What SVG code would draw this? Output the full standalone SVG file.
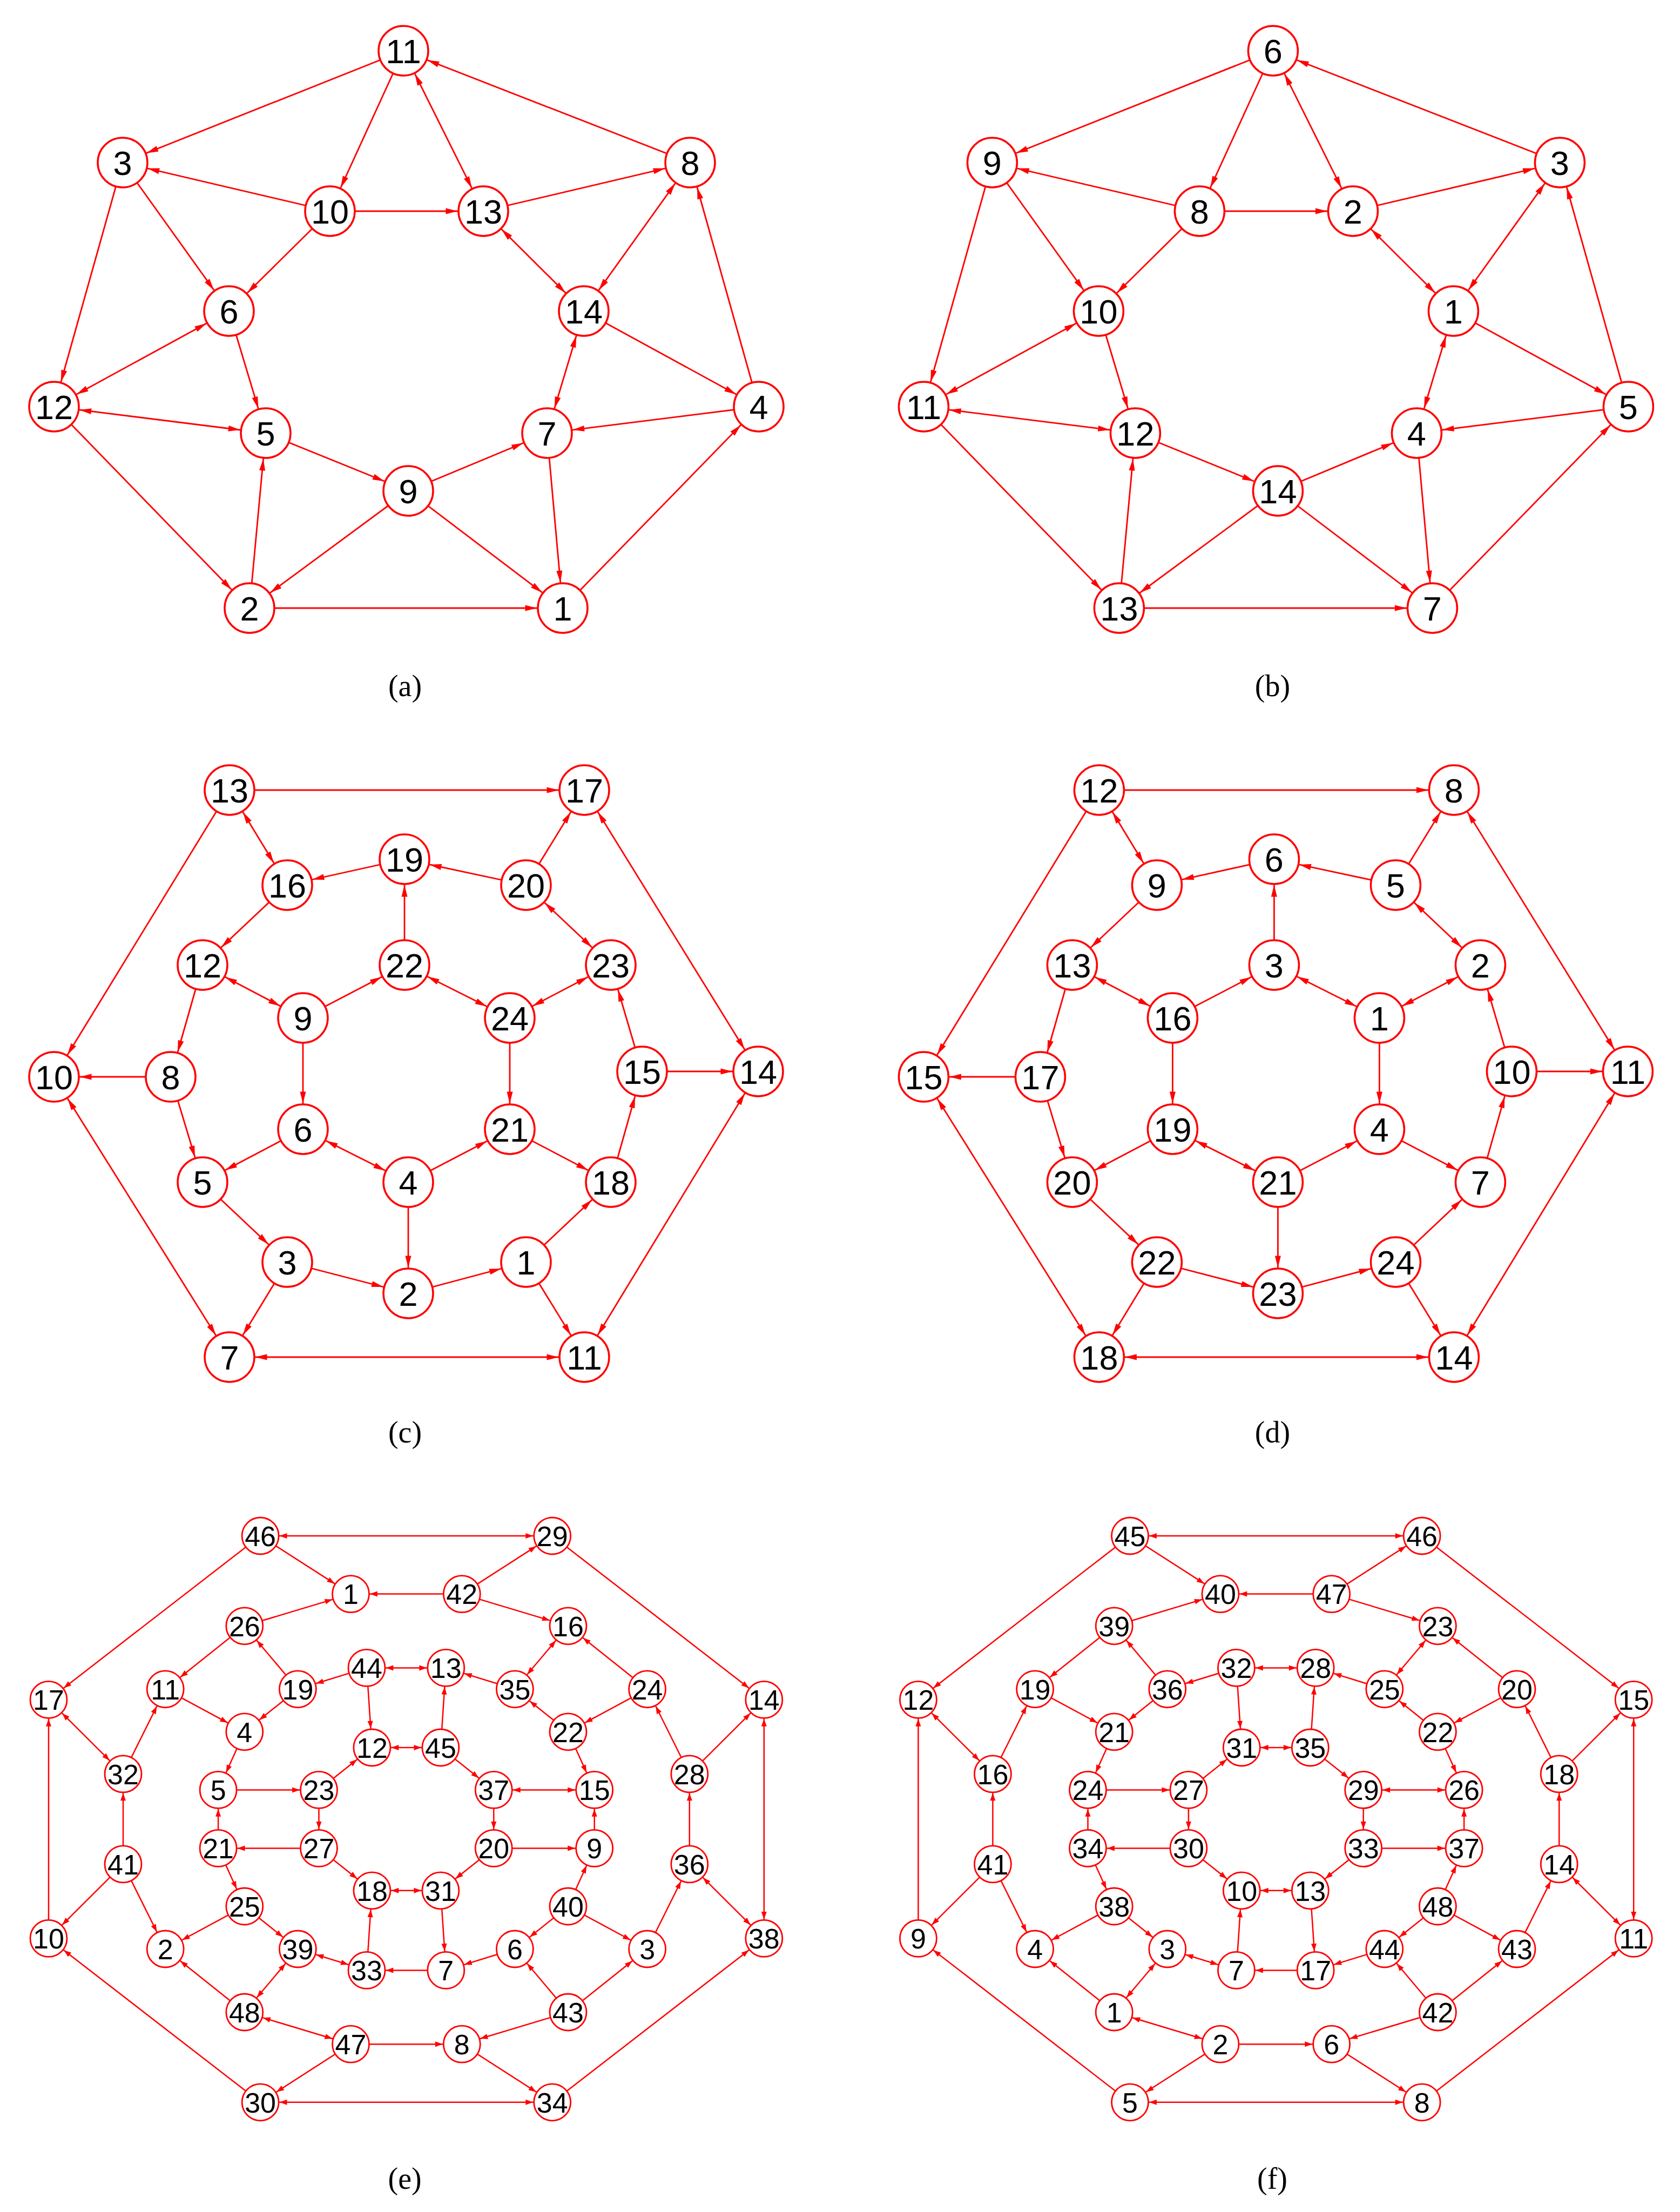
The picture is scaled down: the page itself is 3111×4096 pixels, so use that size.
<svg xmlns="http://www.w3.org/2000/svg" width="3111" height="4096" viewBox="0 0 3111 4096">
<style>
.ed line{stroke:#ff0000;fill:none}
.big line{stroke-width:2.8;marker-end:url(#mL)}
.big line.b{marker-start:url(#mL)}
.sml line{stroke-width:2.5;marker-end:url(#mS)}
.sml line.b{marker-start:url(#mS)}
.nd circle{fill:#ffffff;stroke:#ff0000}
.nd text{font-family:"Liberation Sans",Arial,sans-serif;fill:#000000;text-anchor:middle}
.L circle{stroke-width:3.5}
.L text{font-size:63px}
.S circle{stroke-width:2.8}
.S text{font-size:52px}
.cap{font-family:"Liberation Serif","Times New Roman",serif;font-size:56px;text-anchor:middle;fill:#000000}
</style>
<defs>
<marker id="mL" markerUnits="userSpaceOnUse" markerWidth="22" markerHeight="11" refX="69.5" refY="5.5" orient="auto-start-reverse" overflow="visible"><path d="M0,0 L22,5.5 L0,11 z" fill="#ff0000"/></marker>
<marker id="mS" markerUnits="userSpaceOnUse" markerWidth="14" markerHeight="10" refX="49.4" refY="5" orient="auto-start-reverse" overflow="visible"><path d="M0,0 L14,5 L0,10 z" fill="#ff0000"/></marker>
</defs>
<rect x="0" y="0" width="3111" height="4096" fill="#ffffff"/>

<!-- Panel (a) -->
<g id="panel-a">
<g id="a-edges" class="ed big">
<line x1="1278" y1="301" x2="747" y2="94"/>
<line x1="747" y1="94" x2="227" y2="301"/>
<line x1="747" y1="94" x2="611" y2="391"/>
<line class="b" x1="747" y1="94" x2="895" y2="391"/>
<line x1="611" y1="391" x2="227" y2="301"/>
<line x1="611" y1="391" x2="895" y2="391"/>
<line x1="895" y1="391" x2="1278" y2="301"/>
<line x1="227" y1="301" x2="424" y2="576"/>
<line x1="227" y1="301" x2="100" y2="753"/>
<line x1="611" y1="391" x2="424" y2="576"/>
<line class="b" x1="895" y1="391" x2="1081" y2="576"/>
<line class="b" x1="1278" y1="301" x2="1081" y2="576"/>
<line x1="1081" y1="576" x2="1405" y2="753"/>
<line x1="1405" y1="753" x2="1278" y2="301"/>
<line class="b" x1="424" y1="576" x2="100" y2="753"/>
<line x1="424" y1="576" x2="492" y2="802"/>
<line class="b" x1="100" y1="753" x2="492" y2="802"/>
<line x1="100" y1="753" x2="462" y2="1126"/>
<line x1="492" y1="802" x2="756" y2="909"/>
<line x1="756" y1="909" x2="1013" y2="802"/>
<line class="b" x1="1081" y1="576" x2="1013" y2="802"/>
<line x1="1405" y1="753" x2="1013" y2="802"/>
<line x1="1013" y1="802" x2="1042" y2="1126"/>
<line x1="756" y1="909" x2="462" y2="1126"/>
<line x1="756" y1="909" x2="1042" y2="1126"/>
<line x1="462" y1="1126" x2="492" y2="802"/>
<line x1="462" y1="1126" x2="1042" y2="1126"/>
<line x1="1042" y1="1126" x2="1405" y2="753"/>
</g>
<g id="a-nodes" class="nd L">
<g id="a-11"><circle cx="747" cy="94" r="46"/><text x="747" y="116.5">11</text></g>
<g id="a-3"><circle cx="227" cy="301" r="46"/><text x="227" y="323.5">3</text></g>
<g id="a-8"><circle cx="1278" cy="301" r="46"/><text x="1278" y="323.5">8</text></g>
<g id="a-10"><circle cx="611" cy="391" r="46"/><text x="611" y="413.5">10</text></g>
<g id="a-13"><circle cx="895" cy="391" r="46"/><text x="895" y="413.5">13</text></g>
<g id="a-6"><circle cx="424" cy="576" r="46"/><text x="424" y="598.5">6</text></g>
<g id="a-14"><circle cx="1081" cy="576" r="46"/><text x="1081" y="598.5">14</text></g>
<g id="a-12"><circle cx="100" cy="753" r="46"/><text x="100" y="775.5">12</text></g>
<g id="a-5"><circle cx="492" cy="802" r="46"/><text x="492" y="824.5">5</text></g>
<g id="a-9"><circle cx="756" cy="909" r="46"/><text x="756" y="931.5">9</text></g>
<g id="a-7"><circle cx="1013" cy="802" r="46"/><text x="1013" y="824.5">7</text></g>
<g id="a-4"><circle cx="1405" cy="753" r="46"/><text x="1405" y="775.5">4</text></g>
<g id="a-2"><circle cx="462" cy="1126" r="46"/><text x="462" y="1148.5">2</text></g>
<g id="a-1"><circle cx="1042" cy="1126" r="46"/><text x="1042" y="1148.5">1</text></g>
</g>
<text class="cap" x="750" y="1289">(a)</text>
</g>

<!-- Panel (b) -->
<g id="panel-b" transform="translate(1610.4,0)">
<g id="b-edges" class="ed big">
<line x1="1278" y1="301" x2="747" y2="94"/>
<line x1="747" y1="94" x2="227" y2="301"/>
<line x1="747" y1="94" x2="611" y2="391"/>
<line class="b" x1="747" y1="94" x2="895" y2="391"/>
<line x1="611" y1="391" x2="227" y2="301"/>
<line x1="611" y1="391" x2="895" y2="391"/>
<line x1="895" y1="391" x2="1278" y2="301"/>
<line x1="227" y1="301" x2="424" y2="576"/>
<line x1="227" y1="301" x2="100" y2="753"/>
<line x1="611" y1="391" x2="424" y2="576"/>
<line class="b" x1="895" y1="391" x2="1081" y2="576"/>
<line class="b" x1="1278" y1="301" x2="1081" y2="576"/>
<line x1="1081" y1="576" x2="1405" y2="753"/>
<line x1="1405" y1="753" x2="1278" y2="301"/>
<line class="b" x1="424" y1="576" x2="100" y2="753"/>
<line x1="424" y1="576" x2="492" y2="802"/>
<line class="b" x1="100" y1="753" x2="492" y2="802"/>
<line x1="100" y1="753" x2="462" y2="1126"/>
<line x1="492" y1="802" x2="756" y2="909"/>
<line x1="756" y1="909" x2="1013" y2="802"/>
<line class="b" x1="1081" y1="576" x2="1013" y2="802"/>
<line x1="1405" y1="753" x2="1013" y2="802"/>
<line x1="1013" y1="802" x2="1042" y2="1126"/>
<line x1="756" y1="909" x2="462" y2="1126"/>
<line x1="756" y1="909" x2="1042" y2="1126"/>
<line x1="462" y1="1126" x2="492" y2="802"/>
<line x1="462" y1="1126" x2="1042" y2="1126"/>
<line x1="1042" y1="1126" x2="1405" y2="753"/>
</g>
<g id="b-nodes" class="nd L">
<g id="b-6"><circle cx="747" cy="94" r="46"/><text x="747" y="116.5">6</text></g>
<g id="b-9"><circle cx="227" cy="301" r="46"/><text x="227" y="323.5">9</text></g>
<g id="b-3"><circle cx="1278" cy="301" r="46"/><text x="1278" y="323.5">3</text></g>
<g id="b-8"><circle cx="611" cy="391" r="46"/><text x="611" y="413.5">8</text></g>
<g id="b-2"><circle cx="895" cy="391" r="46"/><text x="895" y="413.5">2</text></g>
<g id="b-10"><circle cx="424" cy="576" r="46"/><text x="424" y="598.5">10</text></g>
<g id="b-1"><circle cx="1081" cy="576" r="46"/><text x="1081" y="598.5">1</text></g>
<g id="b-11"><circle cx="100" cy="753" r="46"/><text x="100" y="775.5">11</text></g>
<g id="b-12"><circle cx="492" cy="802" r="46"/><text x="492" y="824.5">12</text></g>
<g id="b-14"><circle cx="756" cy="909" r="46"/><text x="756" y="931.5">14</text></g>
<g id="b-4"><circle cx="1013" cy="802" r="46"/><text x="1013" y="824.5">4</text></g>
<g id="b-5"><circle cx="1405" cy="753" r="46"/><text x="1405" y="775.5">5</text></g>
<g id="b-13"><circle cx="462" cy="1126" r="46"/><text x="462" y="1148.5">13</text></g>
<g id="b-7"><circle cx="1042" cy="1126" r="46"/><text x="1042" y="1148.5">7</text></g>
</g>
<text class="cap" x="746" y="1289">(b)</text>
</g>

<!-- Panel (c) -->
<g id="panel-c">
<g id="c-edges" class="ed big">
<line x1="425" y1="1463" x2="1082" y2="1463"/>
<line class="b" x1="425" y1="1463" x2="532" y2="1639"/>
<line x1="425" y1="1463" x2="100" y2="1994"/>
<line class="b" x1="1082" y1="1463" x2="1404" y2="1984"/>
<line x1="974" y1="1639" x2="1082" y2="1463"/>
<line x1="974" y1="1639" x2="749" y2="1591"/>
<line x1="749" y1="1591" x2="532" y2="1639"/>
<line x1="532" y1="1639" x2="375" y2="1787"/>
<line x1="749" y1="1787" x2="749" y2="1591"/>
<line class="b" x1="974" y1="1639" x2="1131" y2="1787"/>
<line class="b" x1="375" y1="1787" x2="561" y2="1885"/>
<line x1="375" y1="1787" x2="316" y2="1994"/>
<line x1="561" y1="1885" x2="749" y2="1787"/>
<line class="b" x1="749" y1="1787" x2="944" y2="1885"/>
<line class="b" x1="1131" y1="1787" x2="944" y2="1885"/>
<line x1="1189" y1="1984" x2="1131" y2="1787"/>
<line x1="1189" y1="1984" x2="1404" y2="1984"/>
<line x1="316" y1="1994" x2="100" y2="1994"/>
<line x1="561" y1="1885" x2="561" y2="2091"/>
<line x1="944" y1="1885" x2="944" y2="2091"/>
<line class="b" x1="100" y1="1994" x2="425" y2="2513"/>
<line x1="316" y1="1994" x2="375" y2="2189"/>
<line x1="561" y1="2091" x2="375" y2="2189"/>
<line class="b" x1="561" y1="2091" x2="756" y2="2189"/>
<line x1="756" y1="2189" x2="944" y2="2091"/>
<line x1="944" y1="2091" x2="1131" y2="2189"/>
<line x1="1131" y1="2189" x2="1189" y2="1984"/>
<line x1="375" y1="2189" x2="532" y2="2337"/>
<line x1="756" y1="2189" x2="756" y2="2395"/>
<line x1="532" y1="2337" x2="756" y2="2395"/>
<line x1="756" y1="2395" x2="974" y2="2337"/>
<line x1="974" y1="2337" x2="1131" y2="2189"/>
<line x1="532" y1="2337" x2="425" y2="2513"/>
<line x1="974" y1="2337" x2="1082" y2="2513"/>
<line class="b" x1="1404" y1="1984" x2="1082" y2="2513"/>
<line class="b" x1="425" y1="2513" x2="1082" y2="2513"/>
</g>
<g id="c-nodes" class="nd L">
<g id="c-13"><circle cx="425" cy="1463" r="46"/><text x="425" y="1485.5">13</text></g>
<g id="c-17"><circle cx="1082" cy="1463" r="46"/><text x="1082" y="1485.5">17</text></g>
<g id="c-19"><circle cx="749" cy="1591" r="46"/><text x="749" y="1613.5">19</text></g>
<g id="c-16"><circle cx="532" cy="1639" r="46"/><text x="532" y="1661.5">16</text></g>
<g id="c-20"><circle cx="974" cy="1639" r="46"/><text x="974" y="1661.5">20</text></g>
<g id="c-12"><circle cx="375" cy="1787" r="46"/><text x="375" y="1809.5">12</text></g>
<g id="c-22"><circle cx="749" cy="1787" r="46"/><text x="749" y="1809.5">22</text></g>
<g id="c-23"><circle cx="1131" cy="1787" r="46"/><text x="1131" y="1809.5">23</text></g>
<g id="c-9"><circle cx="561" cy="1885" r="46"/><text x="561" y="1907.5">9</text></g>
<g id="c-24"><circle cx="944" cy="1885" r="46"/><text x="944" y="1907.5">24</text></g>
<g id="c-10"><circle cx="100" cy="1994" r="46"/><text x="100" y="2016.5">10</text></g>
<g id="c-8"><circle cx="316" cy="1994" r="46"/><text x="316" y="2016.5">8</text></g>
<g id="c-15"><circle cx="1189" cy="1984" r="46"/><text x="1189" y="2006.5">15</text></g>
<g id="c-14"><circle cx="1404" cy="1984" r="46"/><text x="1404" y="2006.5">14</text></g>
<g id="c-6"><circle cx="561" cy="2091" r="46"/><text x="561" y="2113.5">6</text></g>
<g id="c-21"><circle cx="944" cy="2091" r="46"/><text x="944" y="2113.5">21</text></g>
<g id="c-5"><circle cx="375" cy="2189" r="46"/><text x="375" y="2211.5">5</text></g>
<g id="c-4"><circle cx="756" cy="2189" r="46"/><text x="756" y="2211.5">4</text></g>
<g id="c-18"><circle cx="1131" cy="2189" r="46"/><text x="1131" y="2211.5">18</text></g>
<g id="c-3"><circle cx="532" cy="2337" r="46"/><text x="532" y="2359.5">3</text></g>
<g id="c-1"><circle cx="974" cy="2337" r="46"/><text x="974" y="2359.5">1</text></g>
<g id="c-2"><circle cx="756" cy="2395" r="46"/><text x="756" y="2417.5">2</text></g>
<g id="c-7"><circle cx="425" cy="2513" r="46"/><text x="425" y="2535.5">7</text></g>
<g id="c-11"><circle cx="1082" cy="2513" r="46"/><text x="1082" y="2535.5">11</text></g>
</g>
<text class="cap" x="750" y="2671">(c)</text>
</g>

<!-- Panel (d) -->
<g id="panel-d" transform="translate(1610.4,0)">
<g id="d-edges" class="ed big">
<line x1="425" y1="1463" x2="1082" y2="1463"/>
<line class="b" x1="425" y1="1463" x2="532" y2="1639"/>
<line x1="425" y1="1463" x2="100" y2="1994"/>
<line class="b" x1="1082" y1="1463" x2="1404" y2="1984"/>
<line x1="974" y1="1639" x2="1082" y2="1463"/>
<line x1="974" y1="1639" x2="749" y2="1591"/>
<line x1="749" y1="1591" x2="532" y2="1639"/>
<line x1="532" y1="1639" x2="375" y2="1787"/>
<line x1="749" y1="1787" x2="749" y2="1591"/>
<line class="b" x1="974" y1="1639" x2="1131" y2="1787"/>
<line class="b" x1="375" y1="1787" x2="561" y2="1885"/>
<line x1="375" y1="1787" x2="316" y2="1994"/>
<line x1="561" y1="1885" x2="749" y2="1787"/>
<line class="b" x1="749" y1="1787" x2="944" y2="1885"/>
<line class="b" x1="1131" y1="1787" x2="944" y2="1885"/>
<line x1="1189" y1="1984" x2="1131" y2="1787"/>
<line x1="1189" y1="1984" x2="1404" y2="1984"/>
<line x1="316" y1="1994" x2="100" y2="1994"/>
<line x1="561" y1="1885" x2="561" y2="2091"/>
<line x1="944" y1="1885" x2="944" y2="2091"/>
<line class="b" x1="100" y1="1994" x2="425" y2="2513"/>
<line x1="316" y1="1994" x2="375" y2="2189"/>
<line x1="561" y1="2091" x2="375" y2="2189"/>
<line class="b" x1="561" y1="2091" x2="756" y2="2189"/>
<line x1="756" y1="2189" x2="944" y2="2091"/>
<line x1="944" y1="2091" x2="1131" y2="2189"/>
<line x1="1131" y1="2189" x2="1189" y2="1984"/>
<line x1="375" y1="2189" x2="532" y2="2337"/>
<line x1="756" y1="2189" x2="756" y2="2395"/>
<line x1="532" y1="2337" x2="756" y2="2395"/>
<line x1="756" y1="2395" x2="974" y2="2337"/>
<line x1="974" y1="2337" x2="1131" y2="2189"/>
<line x1="532" y1="2337" x2="425" y2="2513"/>
<line x1="974" y1="2337" x2="1082" y2="2513"/>
<line class="b" x1="1404" y1="1984" x2="1082" y2="2513"/>
<line class="b" x1="425" y1="2513" x2="1082" y2="2513"/>
</g>
<g id="d-nodes" class="nd L">
<g id="d-12"><circle cx="425" cy="1463" r="46"/><text x="425" y="1485.5">12</text></g>
<g id="d-8"><circle cx="1082" cy="1463" r="46"/><text x="1082" y="1485.5">8</text></g>
<g id="d-6"><circle cx="749" cy="1591" r="46"/><text x="749" y="1613.5">6</text></g>
<g id="d-9"><circle cx="532" cy="1639" r="46"/><text x="532" y="1661.5">9</text></g>
<g id="d-5"><circle cx="974" cy="1639" r="46"/><text x="974" y="1661.5">5</text></g>
<g id="d-13"><circle cx="375" cy="1787" r="46"/><text x="375" y="1809.5">13</text></g>
<g id="d-3"><circle cx="749" cy="1787" r="46"/><text x="749" y="1809.5">3</text></g>
<g id="d-2"><circle cx="1131" cy="1787" r="46"/><text x="1131" y="1809.5">2</text></g>
<g id="d-16"><circle cx="561" cy="1885" r="46"/><text x="561" y="1907.5">16</text></g>
<g id="d-1"><circle cx="944" cy="1885" r="46"/><text x="944" y="1907.5">1</text></g>
<g id="d-15"><circle cx="100" cy="1994" r="46"/><text x="100" y="2016.5">15</text></g>
<g id="d-17"><circle cx="316" cy="1994" r="46"/><text x="316" y="2016.5">17</text></g>
<g id="d-10"><circle cx="1189" cy="1984" r="46"/><text x="1189" y="2006.5">10</text></g>
<g id="d-11"><circle cx="1404" cy="1984" r="46"/><text x="1404" y="2006.5">11</text></g>
<g id="d-19"><circle cx="561" cy="2091" r="46"/><text x="561" y="2113.5">19</text></g>
<g id="d-4"><circle cx="944" cy="2091" r="46"/><text x="944" y="2113.5">4</text></g>
<g id="d-20"><circle cx="375" cy="2189" r="46"/><text x="375" y="2211.5">20</text></g>
<g id="d-21"><circle cx="756" cy="2189" r="46"/><text x="756" y="2211.5">21</text></g>
<g id="d-7"><circle cx="1131" cy="2189" r="46"/><text x="1131" y="2211.5">7</text></g>
<g id="d-22"><circle cx="532" cy="2337" r="46"/><text x="532" y="2359.5">22</text></g>
<g id="d-24"><circle cx="974" cy="2337" r="46"/><text x="974" y="2359.5">24</text></g>
<g id="d-23"><circle cx="756" cy="2395" r="46"/><text x="756" y="2417.5">23</text></g>
<g id="d-18"><circle cx="425" cy="2513" r="46"/><text x="425" y="2535.5">18</text></g>
<g id="d-14"><circle cx="1082" cy="2513" r="46"/><text x="1082" y="2535.5">14</text></g>
</g>
<text class="cap" x="746" y="2671">(d)</text>
</g>

<!-- Panel (e) -->
<g id="panel-e" transform="translate(752.4,3368.4)">
<g id="e-edges" class="ed sml">
<line class="b" x1="-270.3" y1="-524.4" x2="270.3" y2="-524.4"/>
<line x1="-270.3" y1="-524.4" x2="-102.9" y2="-416.8"/>
<line x1="-270.3" y1="-524.4" x2="-662.4" y2="-221"/>
<line x1="102.9" y1="-416.8" x2="-102.9" y2="-416.8"/>
<line x1="-299.6" y1="-357.6" x2="-102.9" y2="-416.8"/>
<line x1="-299.6" y1="-357.6" x2="-446.2" y2="-240.6"/>
<line x1="-201" y1="-240.6" x2="-299.6" y2="-357.6"/>
<line class="b" x1="-73.4" y1="-280" x2="73.4" y2="-280"/>
<line x1="-73.4" y1="-280" x2="-201" y2="-240.6"/>
<line x1="-73.4" y1="-280" x2="-63.5" y2="-132.4"/>
<line x1="-446.2" y1="-240.6" x2="-299.6" y2="-161.6"/>
<line x1="-201" y1="-240.6" x2="-299.6" y2="-161.6"/>
<line class="b" x1="-662.4" y1="-221" x2="-524.4" y2="-83.5"/>
<line x1="-524.4" y1="-83.5" x2="-446.2" y2="-240.6"/>
<line x1="-299.6" y1="-161.6" x2="-348.3" y2="-54"/>
<line class="b" x1="-63.5" y1="-132.4" x2="63.5" y2="-132.4"/>
<line x1="-161.9" y1="-54" x2="-63.5" y2="-132.4"/>
<line x1="-348.3" y1="-54" x2="-161.9" y2="-54"/>
<line x1="-662.4" y1="221" x2="-662.4" y2="-221"/>
<line x1="-524.4" y1="83.5" x2="-524.4" y2="-83.5"/>
<line x1="-348.3" y1="54" x2="-348.3" y2="-54"/>
<line x1="-161.9" y1="-54" x2="-161.9" y2="54"/>
<line x1="102.9" y1="-416.8" x2="270.3" y2="-524.4"/>
<line x1="270.3" y1="-524.4" x2="662.4" y2="-221"/>
<line x1="102.9" y1="-416.8" x2="299.6" y2="-357.6"/>
<line class="b" x1="299.6" y1="-357.6" x2="201" y2="-240.6"/>
<line x1="446.2" y1="-240.6" x2="299.6" y2="-357.6"/>
<line x1="201" y1="-240.6" x2="73.4" y2="-280"/>
<line x1="63.5" y1="-132.4" x2="73.4" y2="-280"/>
<line x1="299.6" y1="-161.6" x2="201" y2="-240.6"/>
<line x1="446.2" y1="-240.6" x2="299.6" y2="-161.6"/>
<line x1="524.4" y1="-83.5" x2="446.2" y2="-240.6"/>
<line x1="524.4" y1="-83.5" x2="662.4" y2="-221"/>
<line class="b" x1="662.4" y1="221" x2="662.4" y2="-221"/>
<line x1="63.5" y1="-132.4" x2="161.9" y2="-54"/>
<line x1="299.6" y1="-161.6" x2="348.3" y2="-54"/>
<line class="b" x1="161.9" y1="-54" x2="348.3" y2="-54"/>
<line x1="524.4" y1="83.5" x2="524.4" y2="-83.5"/>
<line x1="348.3" y1="54" x2="348.3" y2="-54"/>
<line x1="161.9" y1="-54" x2="161.9" y2="54"/>
<line x1="-161.9" y1="54" x2="-348.3" y2="54"/>
<line x1="-348.3" y1="54" x2="-299.6" y2="161.6"/>
<line x1="-161.9" y1="54" x2="-63.5" y2="132.4"/>
<line x1="-524.4" y1="83.5" x2="-662.4" y2="221"/>
<line x1="-524.4" y1="83.5" x2="-446.2" y2="240.6"/>
<line x1="-299.6" y1="161.6" x2="-446.2" y2="240.6"/>
<line x1="-299.6" y1="161.6" x2="-201" y2="240.6"/>
<line class="b" x1="-63.5" y1="132.4" x2="63.5" y2="132.4"/>
<line x1="-73.4" y1="280" x2="-63.5" y2="132.4"/>
<line class="b" x1="-201" y1="240.6" x2="-73.4" y2="280"/>
<line x1="73.4" y1="280" x2="-73.4" y2="280"/>
<line class="b" x1="-201" y1="240.6" x2="-299.6" y2="357.6"/>
<line x1="-299.6" y1="357.6" x2="-446.2" y2="240.6"/>
<line class="b" x1="-299.6" y1="357.6" x2="-102.9" y2="416.8"/>
<line x1="-102.9" y1="416.8" x2="102.9" y2="416.8"/>
<line x1="-102.9" y1="416.8" x2="-270.3" y2="524.4"/>
<line x1="-270.3" y1="524.4" x2="-662.4" y2="221"/>
<line class="b" x1="-270.3" y1="524.4" x2="270.3" y2="524.4"/>
<line x1="161.9" y1="54" x2="348.3" y2="54"/>
<line x1="161.9" y1="54" x2="63.5" y2="132.4"/>
<line x1="63.5" y1="132.4" x2="73.4" y2="280"/>
<line x1="299.6" y1="161.6" x2="348.3" y2="54"/>
<line x1="299.6" y1="161.6" x2="201" y2="240.6"/>
<line x1="299.6" y1="161.6" x2="446.2" y2="240.6"/>
<line x1="201" y1="240.6" x2="73.4" y2="280"/>
<line x1="299.6" y1="357.6" x2="201" y2="240.6"/>
<line x1="299.6" y1="357.6" x2="446.2" y2="240.6"/>
<line x1="446.2" y1="240.6" x2="524.4" y2="83.5"/>
<line class="b" x1="524.4" y1="83.5" x2="662.4" y2="221"/>
<line x1="270.3" y1="524.4" x2="662.4" y2="221"/>
<line x1="299.6" y1="357.6" x2="102.9" y2="416.8"/>
<line x1="102.9" y1="416.8" x2="270.3" y2="524.4"/>
</g>
<g id="e-nodes" class="nd S">
<g id="e-46"><circle cx="-270.3" cy="-524.4" r="34"/><text x="-270.3" y="-505.6">46</text></g>
<g id="e-1"><circle cx="-102.9" cy="-416.8" r="34"/><text x="-102.9" y="-398">1</text></g>
<g id="e-26"><circle cx="-299.6" cy="-357.6" r="34"/><text x="-299.6" y="-338.8">26</text></g>
<g id="e-44"><circle cx="-73.4" cy="-280" r="34"/><text x="-73.4" y="-261.2">44</text></g>
<g id="e-11"><circle cx="-446.2" cy="-240.6" r="34"/><text x="-446.2" y="-221.8">11</text></g>
<g id="e-19"><circle cx="-201" cy="-240.6" r="34"/><text x="-201" y="-221.8">19</text></g>
<g id="e-17"><circle cx="-662.4" cy="-221" r="34"/><text x="-662.4" y="-202.2">17</text></g>
<g id="e-4"><circle cx="-299.6" cy="-161.6" r="34"/><text x="-299.6" y="-142.8">4</text></g>
<g id="e-12"><circle cx="-63.5" cy="-132.4" r="34"/><text x="-63.5" y="-113.6">12</text></g>
<g id="e-32"><circle cx="-524.4" cy="-83.5" r="34"/><text x="-524.4" y="-64.7">32</text></g>
<g id="e-5"><circle cx="-348.3" cy="-54" r="34"/><text x="-348.3" y="-35.2">5</text></g>
<g id="e-23"><circle cx="-161.9" cy="-54" r="34"/><text x="-161.9" y="-35.2">23</text></g>
<g id="e-29"><circle cx="270.3" cy="-524.4" r="34"/><text x="270.3" y="-505.6">29</text></g>
<g id="e-42"><circle cx="102.9" cy="-416.8" r="34"/><text x="102.9" y="-398">42</text></g>
<g id="e-16"><circle cx="299.6" cy="-357.6" r="34"/><text x="299.6" y="-338.8">16</text></g>
<g id="e-13"><circle cx="73.4" cy="-280" r="34"/><text x="73.4" y="-261.2">13</text></g>
<g id="e-24"><circle cx="446.2" cy="-240.6" r="34"/><text x="446.2" y="-221.8">24</text></g>
<g id="e-35"><circle cx="201" cy="-240.6" r="34"/><text x="201" y="-221.8">35</text></g>
<g id="e-14"><circle cx="662.4" cy="-221" r="34"/><text x="662.4" y="-202.2">14</text></g>
<g id="e-22"><circle cx="299.6" cy="-161.6" r="34"/><text x="299.6" y="-142.8">22</text></g>
<g id="e-45"><circle cx="63.5" cy="-132.4" r="34"/><text x="63.5" y="-113.6">45</text></g>
<g id="e-28"><circle cx="524.4" cy="-83.5" r="34"/><text x="524.4" y="-64.7">28</text></g>
<g id="e-15"><circle cx="348.3" cy="-54" r="34"/><text x="348.3" y="-35.2">15</text></g>
<g id="e-37"><circle cx="161.9" cy="-54" r="34"/><text x="161.9" y="-35.2">37</text></g>
<g id="e-30"><circle cx="-270.3" cy="524.4" r="34"/><text x="-270.3" y="543.2">30</text></g>
<g id="e-47"><circle cx="-102.9" cy="416.8" r="34"/><text x="-102.9" y="435.6">47</text></g>
<g id="e-48"><circle cx="-299.6" cy="357.6" r="34"/><text x="-299.6" y="376.4">48</text></g>
<g id="e-33"><circle cx="-73.4" cy="280" r="34"/><text x="-73.4" y="298.8">33</text></g>
<g id="e-2"><circle cx="-446.2" cy="240.6" r="34"/><text x="-446.2" y="259.4">2</text></g>
<g id="e-39"><circle cx="-201" cy="240.6" r="34"/><text x="-201" y="259.4">39</text></g>
<g id="e-10"><circle cx="-662.4" cy="221" r="34"/><text x="-662.4" y="239.8">10</text></g>
<g id="e-25"><circle cx="-299.6" cy="161.6" r="34"/><text x="-299.6" y="180.4">25</text></g>
<g id="e-18"><circle cx="-63.5" cy="132.4" r="34"/><text x="-63.5" y="151.2">18</text></g>
<g id="e-41"><circle cx="-524.4" cy="83.5" r="34"/><text x="-524.4" y="102.3">41</text></g>
<g id="e-21"><circle cx="-348.3" cy="54" r="34"/><text x="-348.3" y="72.8">21</text></g>
<g id="e-27"><circle cx="-161.9" cy="54" r="34"/><text x="-161.9" y="72.8">27</text></g>
<g id="e-34"><circle cx="270.3" cy="524.4" r="34"/><text x="270.3" y="543.2">34</text></g>
<g id="e-8"><circle cx="102.9" cy="416.8" r="34"/><text x="102.9" y="435.6">8</text></g>
<g id="e-43"><circle cx="299.6" cy="357.6" r="34"/><text x="299.6" y="376.4">43</text></g>
<g id="e-7"><circle cx="73.4" cy="280" r="34"/><text x="73.4" y="298.8">7</text></g>
<g id="e-3"><circle cx="446.2" cy="240.6" r="34"/><text x="446.2" y="259.4">3</text></g>
<g id="e-6"><circle cx="201" cy="240.6" r="34"/><text x="201" y="259.4">6</text></g>
<g id="e-38"><circle cx="662.4" cy="221" r="34"/><text x="662.4" y="239.8">38</text></g>
<g id="e-40"><circle cx="299.6" cy="161.6" r="34"/><text x="299.6" y="180.4">40</text></g>
<g id="e-31"><circle cx="63.5" cy="132.4" r="34"/><text x="63.5" y="151.2">31</text></g>
<g id="e-36"><circle cx="524.4" cy="83.5" r="34"/><text x="524.4" y="102.3">36</text></g>
<g id="e-9"><circle cx="348.3" cy="54" r="34"/><text x="348.3" y="72.8">9</text></g>
<g id="e-20"><circle cx="161.9" cy="54" r="34"/><text x="161.9" y="72.8">20</text></g>
</g>
<text class="cap" x="-2.8" y="684.6">(e)</text>
</g>

<!-- Panel (f) -->
<g id="panel-f" transform="translate(2362.8,3368.4)">
<g id="f-edges" class="ed sml">
<line class="b" x1="-270.3" y1="-524.4" x2="270.3" y2="-524.4"/>
<line x1="-270.3" y1="-524.4" x2="-102.9" y2="-416.8"/>
<line x1="-270.3" y1="-524.4" x2="-662.4" y2="-221"/>
<line x1="102.9" y1="-416.8" x2="-102.9" y2="-416.8"/>
<line x1="-299.6" y1="-357.6" x2="-102.9" y2="-416.8"/>
<line x1="-299.6" y1="-357.6" x2="-446.2" y2="-240.6"/>
<line x1="-201" y1="-240.6" x2="-299.6" y2="-357.6"/>
<line class="b" x1="-73.4" y1="-280" x2="73.4" y2="-280"/>
<line x1="-73.4" y1="-280" x2="-201" y2="-240.6"/>
<line x1="-73.4" y1="-280" x2="-63.5" y2="-132.4"/>
<line x1="-446.2" y1="-240.6" x2="-299.6" y2="-161.6"/>
<line x1="-201" y1="-240.6" x2="-299.6" y2="-161.6"/>
<line class="b" x1="-662.4" y1="-221" x2="-524.4" y2="-83.5"/>
<line x1="-524.4" y1="-83.5" x2="-446.2" y2="-240.6"/>
<line x1="-299.6" y1="-161.6" x2="-348.3" y2="-54"/>
<line class="b" x1="-63.5" y1="-132.4" x2="63.5" y2="-132.4"/>
<line x1="-161.9" y1="-54" x2="-63.5" y2="-132.4"/>
<line x1="-348.3" y1="-54" x2="-161.9" y2="-54"/>
<line x1="-662.4" y1="221" x2="-662.4" y2="-221"/>
<line x1="-524.4" y1="83.5" x2="-524.4" y2="-83.5"/>
<line x1="-348.3" y1="54" x2="-348.3" y2="-54"/>
<line x1="-161.9" y1="-54" x2="-161.9" y2="54"/>
<line x1="102.9" y1="-416.8" x2="270.3" y2="-524.4"/>
<line x1="270.3" y1="-524.4" x2="662.4" y2="-221"/>
<line x1="102.9" y1="-416.8" x2="299.6" y2="-357.6"/>
<line class="b" x1="299.6" y1="-357.6" x2="201" y2="-240.6"/>
<line x1="446.2" y1="-240.6" x2="299.6" y2="-357.6"/>
<line x1="201" y1="-240.6" x2="73.4" y2="-280"/>
<line x1="63.5" y1="-132.4" x2="73.4" y2="-280"/>
<line x1="299.6" y1="-161.6" x2="201" y2="-240.6"/>
<line x1="446.2" y1="-240.6" x2="299.6" y2="-161.6"/>
<line x1="524.4" y1="-83.5" x2="446.2" y2="-240.6"/>
<line x1="524.4" y1="-83.5" x2="662.4" y2="-221"/>
<line class="b" x1="662.4" y1="221" x2="662.4" y2="-221"/>
<line x1="63.5" y1="-132.4" x2="161.9" y2="-54"/>
<line x1="299.6" y1="-161.6" x2="348.3" y2="-54"/>
<line class="b" x1="161.9" y1="-54" x2="348.3" y2="-54"/>
<line x1="524.4" y1="83.5" x2="524.4" y2="-83.5"/>
<line x1="348.3" y1="54" x2="348.3" y2="-54"/>
<line x1="161.9" y1="-54" x2="161.9" y2="54"/>
<line x1="-161.9" y1="54" x2="-348.3" y2="54"/>
<line x1="-348.3" y1="54" x2="-299.6" y2="161.6"/>
<line x1="-161.9" y1="54" x2="-63.5" y2="132.4"/>
<line x1="-524.4" y1="83.5" x2="-662.4" y2="221"/>
<line x1="-524.4" y1="83.5" x2="-446.2" y2="240.6"/>
<line x1="-299.6" y1="161.6" x2="-446.2" y2="240.6"/>
<line x1="-299.6" y1="161.6" x2="-201" y2="240.6"/>
<line class="b" x1="-63.5" y1="132.4" x2="63.5" y2="132.4"/>
<line x1="-73.4" y1="280" x2="-63.5" y2="132.4"/>
<line class="b" x1="-201" y1="240.6" x2="-73.4" y2="280"/>
<line x1="73.4" y1="280" x2="-73.4" y2="280"/>
<line class="b" x1="-201" y1="240.6" x2="-299.6" y2="357.6"/>
<line x1="-299.6" y1="357.6" x2="-446.2" y2="240.6"/>
<line class="b" x1="-299.6" y1="357.6" x2="-102.9" y2="416.8"/>
<line x1="-102.9" y1="416.8" x2="102.9" y2="416.8"/>
<line x1="-102.9" y1="416.8" x2="-270.3" y2="524.4"/>
<line x1="-270.3" y1="524.4" x2="-662.4" y2="221"/>
<line class="b" x1="-270.3" y1="524.4" x2="270.3" y2="524.4"/>
<line x1="161.9" y1="54" x2="348.3" y2="54"/>
<line x1="161.9" y1="54" x2="63.5" y2="132.4"/>
<line x1="63.5" y1="132.4" x2="73.4" y2="280"/>
<line x1="299.6" y1="161.6" x2="348.3" y2="54"/>
<line x1="299.6" y1="161.6" x2="201" y2="240.6"/>
<line x1="299.6" y1="161.6" x2="446.2" y2="240.6"/>
<line x1="201" y1="240.6" x2="73.4" y2="280"/>
<line x1="299.6" y1="357.6" x2="201" y2="240.6"/>
<line x1="299.6" y1="357.6" x2="446.2" y2="240.6"/>
<line x1="446.2" y1="240.6" x2="524.4" y2="83.5"/>
<line class="b" x1="524.4" y1="83.5" x2="662.4" y2="221"/>
<line x1="270.3" y1="524.4" x2="662.4" y2="221"/>
<line x1="299.6" y1="357.6" x2="102.9" y2="416.8"/>
<line x1="102.9" y1="416.8" x2="270.3" y2="524.4"/>
</g>
<g id="f-nodes" class="nd S">
<g id="f-45"><circle cx="-270.3" cy="-524.4" r="34"/><text x="-270.3" y="-505.6">45</text></g>
<g id="f-40"><circle cx="-102.9" cy="-416.8" r="34"/><text x="-102.9" y="-398">40</text></g>
<g id="f-39"><circle cx="-299.6" cy="-357.6" r="34"/><text x="-299.6" y="-338.8">39</text></g>
<g id="f-32"><circle cx="-73.4" cy="-280" r="34"/><text x="-73.4" y="-261.2">32</text></g>
<g id="f-19"><circle cx="-446.2" cy="-240.6" r="34"/><text x="-446.2" y="-221.8">19</text></g>
<g id="f-36"><circle cx="-201" cy="-240.6" r="34"/><text x="-201" y="-221.8">36</text></g>
<g id="f-12"><circle cx="-662.4" cy="-221" r="34"/><text x="-662.4" y="-202.2">12</text></g>
<g id="f-21"><circle cx="-299.6" cy="-161.6" r="34"/><text x="-299.6" y="-142.8">21</text></g>
<g id="f-31"><circle cx="-63.5" cy="-132.4" r="34"/><text x="-63.5" y="-113.6">31</text></g>
<g id="f-16"><circle cx="-524.4" cy="-83.5" r="34"/><text x="-524.4" y="-64.7">16</text></g>
<g id="f-24"><circle cx="-348.3" cy="-54" r="34"/><text x="-348.3" y="-35.2">24</text></g>
<g id="f-27"><circle cx="-161.9" cy="-54" r="34"/><text x="-161.9" y="-35.2">27</text></g>
<g id="f-46"><circle cx="270.3" cy="-524.4" r="34"/><text x="270.3" y="-505.6">46</text></g>
<g id="f-47"><circle cx="102.9" cy="-416.8" r="34"/><text x="102.9" y="-398">47</text></g>
<g id="f-23"><circle cx="299.6" cy="-357.6" r="34"/><text x="299.6" y="-338.8">23</text></g>
<g id="f-28"><circle cx="73.4" cy="-280" r="34"/><text x="73.4" y="-261.2">28</text></g>
<g id="f-20"><circle cx="446.2" cy="-240.6" r="34"/><text x="446.2" y="-221.8">20</text></g>
<g id="f-25"><circle cx="201" cy="-240.6" r="34"/><text x="201" y="-221.8">25</text></g>
<g id="f-15"><circle cx="662.4" cy="-221" r="34"/><text x="662.4" y="-202.2">15</text></g>
<g id="f-22"><circle cx="299.6" cy="-161.6" r="34"/><text x="299.6" y="-142.8">22</text></g>
<g id="f-35"><circle cx="63.5" cy="-132.4" r="34"/><text x="63.5" y="-113.6">35</text></g>
<g id="f-18"><circle cx="524.4" cy="-83.5" r="34"/><text x="524.4" y="-64.7">18</text></g>
<g id="f-26"><circle cx="348.3" cy="-54" r="34"/><text x="348.3" y="-35.2">26</text></g>
<g id="f-29"><circle cx="161.9" cy="-54" r="34"/><text x="161.9" y="-35.2">29</text></g>
<g id="f-5"><circle cx="-270.3" cy="524.4" r="34"/><text x="-270.3" y="543.2">5</text></g>
<g id="f-2"><circle cx="-102.9" cy="416.8" r="34"/><text x="-102.9" y="435.6">2</text></g>
<g id="f-1"><circle cx="-299.6" cy="357.6" r="34"/><text x="-299.6" y="376.4">1</text></g>
<g id="f-7"><circle cx="-73.4" cy="280" r="34"/><text x="-73.4" y="298.8">7</text></g>
<g id="f-4"><circle cx="-446.2" cy="240.6" r="34"/><text x="-446.2" y="259.4">4</text></g>
<g id="f-3"><circle cx="-201" cy="240.6" r="34"/><text x="-201" y="259.4">3</text></g>
<g id="f-9"><circle cx="-662.4" cy="221" r="34"/><text x="-662.4" y="239.8">9</text></g>
<g id="f-38"><circle cx="-299.6" cy="161.6" r="34"/><text x="-299.6" y="180.4">38</text></g>
<g id="f-10"><circle cx="-63.5" cy="132.4" r="34"/><text x="-63.5" y="151.2">10</text></g>
<g id="f-41"><circle cx="-524.4" cy="83.5" r="34"/><text x="-524.4" y="102.3">41</text></g>
<g id="f-34"><circle cx="-348.3" cy="54" r="34"/><text x="-348.3" y="72.8">34</text></g>
<g id="f-30"><circle cx="-161.9" cy="54" r="34"/><text x="-161.9" y="72.8">30</text></g>
<g id="f-8"><circle cx="270.3" cy="524.4" r="34"/><text x="270.3" y="543.2">8</text></g>
<g id="f-6"><circle cx="102.9" cy="416.8" r="34"/><text x="102.9" y="435.6">6</text></g>
<g id="f-42"><circle cx="299.6" cy="357.6" r="34"/><text x="299.6" y="376.4">42</text></g>
<g id="f-17"><circle cx="73.4" cy="280" r="34"/><text x="73.4" y="298.8">17</text></g>
<g id="f-43"><circle cx="446.2" cy="240.6" r="34"/><text x="446.2" y="259.4">43</text></g>
<g id="f-44"><circle cx="201" cy="240.6" r="34"/><text x="201" y="259.4">44</text></g>
<g id="f-11"><circle cx="662.4" cy="221" r="34"/><text x="662.4" y="239.8">11</text></g>
<g id="f-48"><circle cx="299.6" cy="161.6" r="34"/><text x="299.6" y="180.4">48</text></g>
<g id="f-13"><circle cx="63.5" cy="132.4" r="34"/><text x="63.5" y="151.2">13</text></g>
<g id="f-14"><circle cx="524.4" cy="83.5" r="34"/><text x="524.4" y="102.3">14</text></g>
<g id="f-37"><circle cx="348.3" cy="54" r="34"/><text x="348.3" y="72.8">37</text></g>
<g id="f-33"><circle cx="161.9" cy="54" r="34"/><text x="161.9" y="72.8">33</text></g>
</g>
<text class="cap" x="-6.8" y="684.6">(f)</text>
</g>
</svg>
